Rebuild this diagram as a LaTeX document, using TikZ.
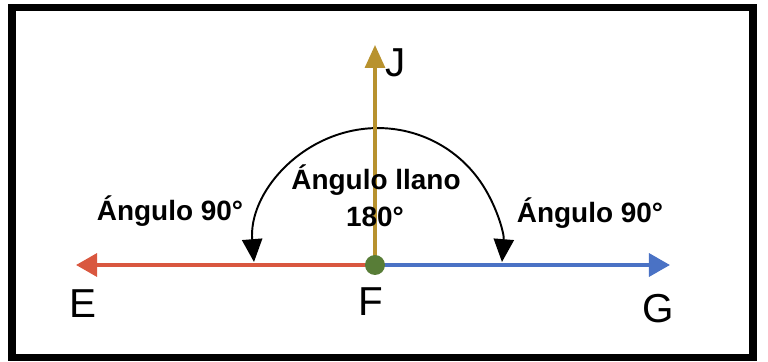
\documentclass[tikz,border=0pt]{standalone}
\usepackage{fontspec}
\setmainfont{Liberation Sans}
\usetikzlibrary{arrows.meta}
\definecolor{RayRed}{HTML}{D9573F}
\definecolor{RayBlue}{HTML}{4A72C5}
\definecolor{RayGold}{HTML}{B8922E}
\definecolor{Vertex}{HTML}{587D37}
\tikzset{
  ray/.style={line width=2.3pt, -{Triangle[length=12pt,width=13pt]}},
  upray/.style={line width=1.8pt, draw=RayGold, -{Triangle[length=13pt,width=11.3pt]}},
  anglearc/.style={line width=1.1pt, {Triangle[length=13pt,width=11.5pt]}-{Triangle[length=13pt,width=11.5pt]}},
  point/.style={font=\fontsize{23}{26}\selectfont, inner sep=0pt, anchor=base},
  angletext/.style={font=\fontsize{15.9}{18}\selectfont\bfseries, inner sep=0pt, anchor=base},
  vertex/.style={circle, fill=Vertex, minimum size=0.4cm, inner sep=0pt}
}
\begin{document}
\begin{tikzpicture}[x=0.02cm,y=0.02cm]
  \useasboundingbox (0,0) rectangle (768,362);
  \draw[line width=4.5pt] (12,4.5) rectangle (753,354.5);
  % rays from the vertex
  \coordinate (F) at (375,97);
  \coordinate (Etip) at (76,97);
  \coordinate (Gtip) at (670,97);
  \coordinate (Jtip) at (375,317);
  \coordinate (arcL) at (254,100);
  \draw[anglearc] (arcL) arc[start angle=184.6,end angle=-4.6,x radius=124.4,y radius=124];
  \draw[ray,draw=RayRed] (F) -- (Etip);
  \draw[ray,draw=RayBlue] (F) -- (Gtip);
  \draw[upray] (F) -- (Jtip);
  \node[vertex] (f) at (F) {};
  % point names
  \node[point] (e) at (83,44) {E};
  \node[point] (fname) at (371,47) {F};
  \node[point] (g) at (658,39) {G};
  \node[point] (j) at (396,285) {J};
  % angle names
  \node[angletext] (left90) at (170,141) {Ángulo 90°};
  \node[angletext] (llano) at (376,172) {Ángulo llano};
  \node[angletext] (deg180) at (375,135) {180°};
  \node[angletext] (right90) at (590,139) {Ángulo 90°};
\end{tikzpicture}
\end{document}
